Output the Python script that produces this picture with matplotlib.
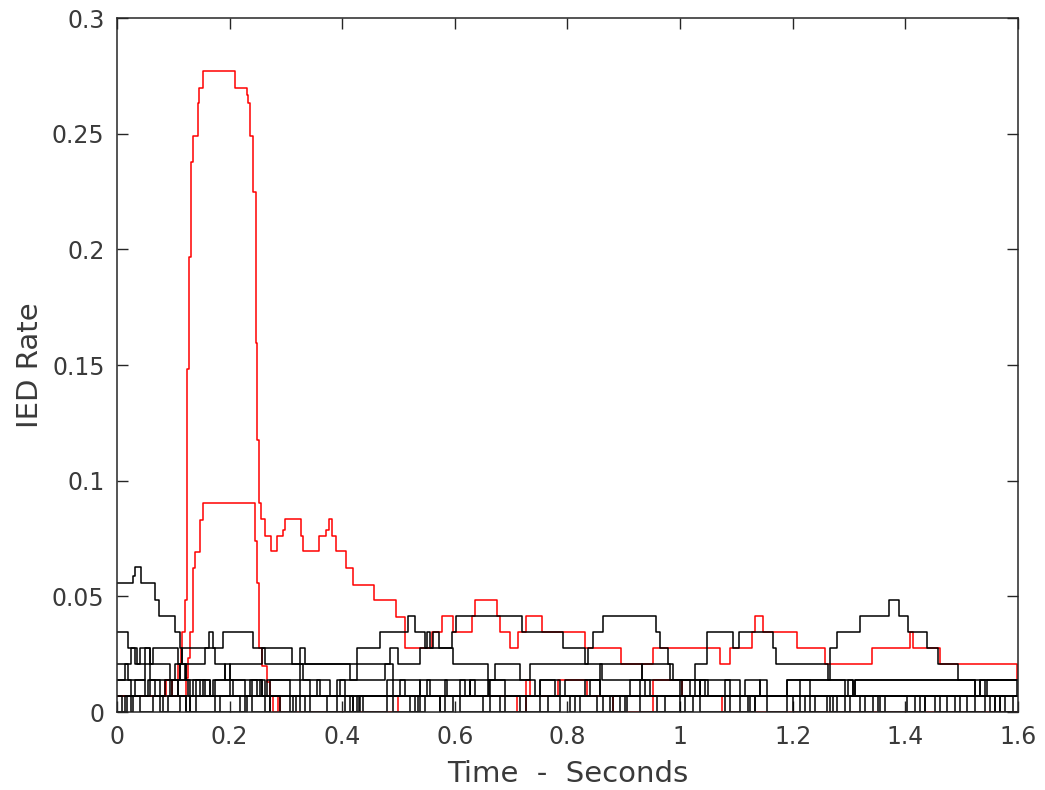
import matplotlib
matplotlib.use("Agg")
import matplotlib.pyplot as plt
from matplotlib.ticker import FuncFormatter

# step series: time (s) where each value starts, value = IED rate
red_a_t = [0, .087, .108, .113, .116, .121, .124, .125, .128, .131, .135, .143, .146, .153,
           .210, .231, .233, .236, .242, .246, .249, .253, .255, .263, .273, .284, .294, .298,
           .327, .330, .359, .372, .376, .381, .389, .407, .420, .457, .495, .511, .559, .577,
           .597, .630, .636, .675, .680, .698, .712, .726, .754, .831, .896, .952, 1.071, 1.089,
           1.128, 1.133, 1.147, 1.208, 1.257, 1.341, 1.408, 1.414, 1.462, 1.598, 1.6]
red_a_v = [.0069, .0139, .0208, .0278, .0347, .0486, .0750, .1483, .1967, .2378, .2490, .2633, .2698, .2772,
           .2698, .2667, .2633, .2490, .2250, .1595, .1176, .0903, .0834, .0762, .0697, .0762, .0787, .0834,
           .0762, .0697, .0762, .0787, .0834, .0762, .0697, .0623, .0549, .0484, .0412, .0278, .0347, .0417,
           .0347, .0417, .0486, .0417, .0347, .0278, .0347, .0417, .0347, .0278, .0208, .0278, .0208, .0278,
           .0347, .0417, .0347, .0278, .0208, .0278, .0347, .0278, .0208, .0139, .0139]

red_b_t = [0, .085, .097, .123, .126, .129, .135, .139, .147, .152, .245, .248, .252, .257, .266,
           .272, .277, .286, .290, .499, .710, .726, .734, .783, .835, .881, .952, 1.004, 1.075, 1.6]
red_b_v = [.0069, .0139, .0069, .0147, .0233, .0347, .0623, .0692, .0830, .0903, .0739, .0558, .0278,
           .0199, .0130, .0069, 0, .0069, 0, .0069, 0, .0139, .0069, .0139, .0069, 0, .0139, .0069, 0, 0]

black_b1_t = [0, .028, .032, .043, .067, .074, .103, .112, .115, .123, .126, .135, .147, .201, .206,
              .254, .263, .373, .391, .419, .426, .520, .535, .650, .663, .751, .766, .853, .863,
              .959, .973, 1.107, 1.121, 1.231, 1.240, 1.293, 1.302, 1.403, 1.417, 1.510, 1.524,
              1.577, 1.591, 1.6]
black_b1_v = [.0556, .0590, .0625, .0556, .0486, .0417, .0347, .0278, .0208, .0139, .0069, .0139, .0069,
              .0139, .0069, .0139, .0069, 0, .0069, 0, .0069, 0, .0069, 0, .0069, 0, .0069, 0, .0069,
              0, .0069, 0, .0069, 0, .0069, 0, .0069, 0, .0069, 0, .0069, 0, .0069, .0069]

black_k1_t = [0, .020, .036, .041, .059, .064, .108, .115, .163, .171, .188, .242, .311, .426, .467,
              .517, .529, .547, .551, .556, .561, .572, .595, .602, .719, .792, .831, .837, .845,
              .863, .957, .964, .979, .988, 1.027, 1.048, 1.094, 1.105, 1.165, 1.171, 1.263, 1.293,
              1.298, 1.307, 1.311, 1.524, 1.533, 1.542, 1.545, 1.6]
black_k1_v = [.0347, .0278, .0208, .0278, .0208, .0278, .0208, .0278, .0347, .0278, .0347, .0278,
              .0208, .0278, .0347, .0417, .0347, .0278, .0347, .0278, .0347, .0278, .0347, .0417,
              .0347, .0278, .0208, .0278, .0347, .0417, .0347, .0278, .0208, .0139, .0208, .0347,
              .0278, .0347, .0278, .0208, .0139, .0069, .0139, .0069, .0139, .0069, .0139, .0069,
              .0139, .0139]

black_k2_t = [0, .025, .032, .050, .059, .094, .108, .130, .140, .165, .174, .227, .240, .258, .272,
              .307, .325, .343, .396, .405, .480, .490, .538, .556, .609, .627, .660, .689, .751,
              .778, .831, .858, .911, .947, 1.000, 1.036, 1.080, 1.089, 1.190, 1.266, 1.279, 1.290,
              1.320, 1.371, 1.389, 1.405, 1.439, 1.458, 1.494, 1.598, 1.6]
black_k2_v = [.0139, .0069, .0139, .0069, .0139, .0069, .0139, .0069, .0139, .0069, .0139, .0069,
              .0139, .0069, .0139, .0069, .0139, .0069, .0139, .0069, .0139, .0069, .0139, .0069,
              .0139, .0069, .0139, .0069, .0139, .0069, .0139, .0069, .0139, .0069, .0139, .0069,
              .0139, .0069, .0139, .0278, .0347, .0347, .0417, .0486, .0417, .0347, .0278, .0208,
              .0139, .0069, .0069]

black_c0_t = [0, .018, .041, .064, .076, .112, .123, .231, .240, .272, .290, .313, .325, .432, .437,
              .480, .490, .547, .574, .597, .609, .787, .822, .906, .929, 1.023, 1.036, 1.133,
              1.155, 1.190, 1.201, 1.261, 1.272, 1.343, 1.352, 1.435, 1.453, 1.542, 1.568, 1.6]
black_c0_v = [0, .0069, 0, .0069, 0, .0069, 0, .0069, 0, .0069, 0, .0069, 0, .0069, 0, .0069, 0,
              .0069, 0, .0069, 0, .0069, 0, .0069, 0, .0069, 0, .0069, 0, .0069, 0, .0069, 0,
              .0069, 0, .0069, 0, .0069, 0, 0]

black_c1_t = [0, .009, .014, .055, .067, .098, .108, .130, .140, .153, .165, .218, .227, .236,
              .249, .307, .318, .355, .361, .419, .430, .503, .512, .583, .586, .627, .636, .659,
              .663, .716, .726, .840, .858, .876, .881, .929, .938, 1.036, 1.044, 1.080, 1.089,
              1.142, 1.155, 1.266, 1.279, 1.355, 1.364, 1.462, 1.474, 1.551, 1.560, 1.6]
black_c1_v = [.0069, 0, .0069, .0139, .0069, .0139, .0069, 0, .0069, .0139, .0069, 0, .0069, .0139,
              .0069, 0, .0069, .0139, .0069, 0, .0069, .0139, .0069, .0139, .0069, .0139, .0069,
              .0139, .0069, 0, .0069, .0139, .0069, 0, .0069, .0139, .0069, .0139, .0069, 0, .0069,
              .0139, .0069, 0, .0069, 0, .0069, 0, .0069, 0, .0069, .0069]

black_c1b_t = [0, .025, .028, .082, .091, .123, .130, .174, .183, .263, .272, .334, .343, .405,
               .414, .529, .538, .574, .583, .680, .689, .805, .813, .893, .902, 1.000, 1.009,
               1.124, 1.133, 1.213, 1.222, 1.320, 1.329, 1.426, 1.435, 1.488, 1.497, 1.560,
               1.568, 1.6]
black_c1b_v = [.0069, 0, .0069, 0, .0069, 0, .0069, 0, .0069, 0, .0069, 0, .0069, 0, .0069, 0,
               .0069, 0, .0069, 0, .0069, 0, .0069, 0, .0069, 0, .0069, 0, .0069, 0, .0069, 0,
               .0069, 0, .0069, 0, .0069, 0, .0069, .0069]

black_c2_t = [0, .014, .020, .050, .059, .076, .085, .112, .123, .156, .171, .192, .201, .258,
              .266, .325, .330, .378, .391, .476, .490, .538, .551, .618, .627, .742, .751, .787,
              .796, .858, .932, 1.018, 1.036, 1.107, 1.115, 1.142, 1.213, 1.307, 1.311, 1.524,
              1.533, 1.6]
black_c2_v = [.0139, .0208, .0139, .0208, .0139, .0069, .0139, .0208, .0139, .0069, .0139, .0208,
              .0139, .0069, .0139, .0208, .0139, .0069, .0139, .0208, .0139, .0069, .0139, .0069,
              .0139, .0069, .0139, .0069, .0139, .0208, .0139, .0069, .0139, .0069, .0139, .0069,
              .0139, .0069, .0139, .0069, .0139, .0139]

black_c3_t = [0, .025, .032, .050, .059, .094, .103, .112, .121, .156, .174, .192, .201, .258,
              .263, .325, .334, .414, .426, .485, .499, .538, .597, .659, .671, .716, .734,
              .861, .932, .982, 1.004, 1.027, 1.050, 1.190, 1.231, 1.263, 1.6]
black_c3_v = [.0208, .0278, .0208, .0278, .0208, .0139, .0208, .0139, .0208, .0278, .0208, .0139,
              .0208, .0278, .0208, .0278, .0208, .0139, .0208, .0278, .0208, .0278, .0208, .0139,
              .0208, .0139, .0208, .0139, .0208, .0139, .0069, .0139, .0069, .0139, .0069, .0069, .0069]

black_lines = [(black_b1_t, black_b1_v), (black_k1_t, black_k1_v), (black_k2_t, black_k2_v),
               (black_c0_t, black_c0_v), (black_c1_t, black_c1_v), (black_c1b_t, black_c1b_v),
               (black_c2_t, black_c2_v), (black_c3_t, black_c3_v)]

fig = plt.figure(figsize=(10.45, 7.9), dpi=100)
ax = fig.add_axes([0.112, 0.0987, 0.862, 0.8785])

ax.step(red_a_t, red_a_v, where="post", color="red", lw=1.1)
ax.step(red_b_t, red_b_v, where="post", color="red", lw=1.1)
for t, v in black_lines:
    ax.step(t, v, where="post", color="black", lw=1.1)

ax.set_xlim(0, 1.6)
ax.set_ylim(0, 0.3)
ax.set_xticks([0, 0.2, 0.4, 0.6, 0.8, 1, 1.2, 1.4, 1.6])
ax.set_yticks([0, 0.05, 0.1, 0.15, 0.2, 0.25, 0.3])
ax.xaxis.set_major_formatter(FuncFormatter(lambda v, p: "%g" % v))
ax.yaxis.set_major_formatter(FuncFormatter(lambda v, p: "%g" % v))
ax.tick_params(direction="in", length=8, width=1, top=True, right=True,
               labelsize=17, colors="#262626", labelcolor="#3a3a3a", pad=9)
for s in ax.spines.values():
    s.set_color("#262626")
    s.set_linewidth(1.1)
ax.set_xlabel("Time  -  Seconds", fontsize=21, color="#3a3a3a", labelpad=8)
ax.set_ylabel("IED Rate", fontsize=21, color="#3a3a3a", labelpad=6)

fig.savefig("out.png", dpi=100)
